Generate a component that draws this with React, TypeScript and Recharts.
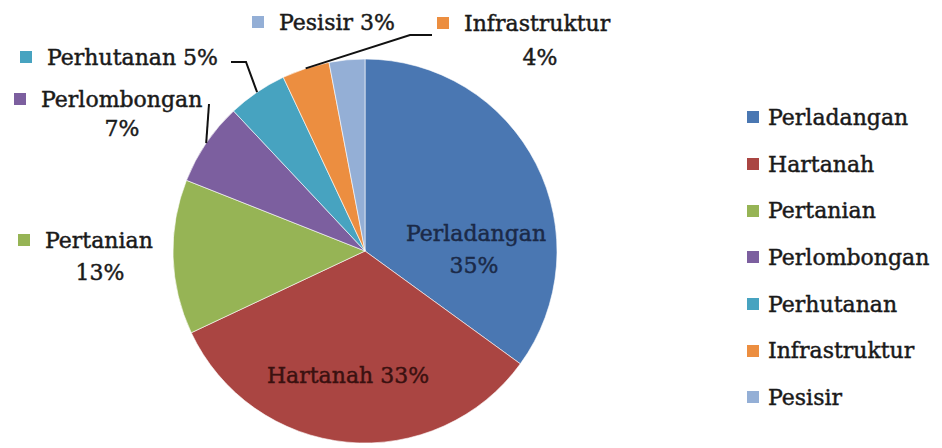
import React from 'react';
import { PieChart, Pie, Cell, Legend } from 'recharts';

const CATEGORIES = ['Perladangan', 'Hartanah', 'Pertanian', 'Perlombongan', 'Perhutanan', 'Infrastruktur', 'Pesisir'];
const SHARES = [35, 33, 13, 7, 5, 4, 3];
const COLORS = ['#4A77B2', '#AA4542', '#96B455', '#7C5F9F', '#47A3C0', '#EC8E40', '#94AFD6'];

const data = CATEGORIES.map((name, i) => ({ name, value: SHARES[i] }));

const FONT = '"DejaVu Serif", serif';
const FS = 22;

type LabelLayout = {
  color?: string;
  lines: { dx: number; dy: number; anchor: 'start' | 'middle'; key?: boolean; text: 'name' | 'pct' | 'namepct' }[];
  leader?: { dx: number; dy: number }[];
};

const LAYOUT: LabelLayout[] = [
  { color: '#1B2A48', lines: [
    { dx: 111, dy: -18, anchor: 'middle', text: 'name' },
    { dx: 109, dy: 14, anchor: 'middle', text: 'pct' },
  ] },
  { color: '#3A1110', lines: [
    { dx: -17, dy: 124, anchor: 'middle', text: 'namepct' },
  ] },
  { lines: [
    { dx: -347, dy: -11, anchor: 'start', key: true, text: 'name' },
    { dx: -265, dy: 21, anchor: 'middle', text: 'pct' },
  ] },
  { lines: [
    { dx: -351, dy: -152, anchor: 'start', key: true, text: 'name' },
    { dx: -243, dy: -123, anchor: 'middle', text: 'pct' },
  ], leader: [{ dx: -156, dy: -147 }] },
  { lines: [
    { dx: -345, dy: -194, anchor: 'start', key: true, text: 'namepct' },
  ], leader: [{ dx: -119, dy: -189 }, { dx: -134, dy: -189 }] },
  { lines: [
    { dx: 72, dy: -228, anchor: 'start', key: true, text: 'name' },
    { dx: 175, dy: -194, anchor: 'middle', text: 'pct' },
  ], leader: [{ dx: 45, dy: -216 }, { dx: 67, dy: -216 }] },
  { lines: [
    { dx: -113, dy: -229, anchor: 'start', key: true, text: 'namepct' },
  ] },
];

const renderLabel = (props: any) => {
  const { cx, cy, midAngle, outerRadius, index, name, value } = props;
  const L = LAYOUT[index];
  if (!L) return null;
  const RAD = Math.PI / 180;
  const ex = cx + outerRadius * Math.cos(-midAngle * RAD);
  const ey = cy + outerRadius * Math.sin(-midAngle * RAD);
  const fill = L.color || '#1a1a1a';
  const pct = `${value}%`;
  return (
    <g key={`lbl-${index}`}>
      {L.leader && (
        <polyline
          points={[`${ex},${ey}`, ...L.leader.map(p => `${cx + p.dx},${cy + p.dy}`)].join(' ')}
          fill="none"
          stroke="#111"
          strokeWidth={2}
        />
      )}
      {L.lines.map((ln, j) => {
        const x = cx + ln.dx;
        const y = cy + ln.dy;
        const txt = ln.text === 'name' ? name : ln.text === 'pct' ? pct : `${name} ${pct}`;
        return (
          <g key={j}>
            {ln.key && <rect x={x} y={y - 6} width={12} height={12} fill={COLORS[index]} />}
            <text
              x={ln.key ? x + 27 : x}
              y={y}
              textAnchor={ln.anchor}
              dominantBaseline="central"
              fontFamily={FONT}
              fontSize={FS}
              fill={fill}
              stroke={fill}
              strokeWidth={0.45}
            >
              {txt}
            </text>
          </g>
        );
      })}
    </g>
  );
};

const LegendContent = () => (
  <div style={{ fontFamily: FONT, fontSize: FS, color: '#1a1a1a', WebkitTextStroke: '0.45px #1a1a1a' }}>
    {CATEGORIES.map((n, i) => (
      <div key={n} style={{ display: 'flex', alignItems: 'center', height: 46.7 }}>
        <span style={{ display: 'inline-block', width: 12, height: 12, background: COLORS[i], marginRight: 9, WebkitTextStroke: '0' }} />
        <span style={{ whiteSpace: 'nowrap' }}>{n}</span>
      </div>
    ))}
  </div>
);

export default function App() {
  return (
    <div style={{ position: 'absolute', left: 0, top: 0, width: 942, height: 448, background: '#fff' }}>
      <PieChart width={942} height={448} margin={{ top: 0, right: 0, bottom: 0, left: 0 }}>
        <Pie
          data={data}
          dataKey="value"
          nameKey="name"
          cx={365}
          cy={251}
          outerRadius={192}
          startAngle={90}
          endAngle={-270}
          stroke="#ffffff"
          strokeWidth={0.6}
          label={renderLabel}
          labelLine={false}
          isAnimationActive={false}
        >
          {data.map((d, i) => (
            <Cell key={d.name} fill={COLORS[i]} />
          ))}
        </Pie>
        <Legend
          content={LegendContent}
          layout="vertical"
          verticalAlign="top"
          align="right"
          wrapperStyle={{ left: 747, top: 94, width: 195 }}
        />
      </PieChart>
    </div>
  );
}
